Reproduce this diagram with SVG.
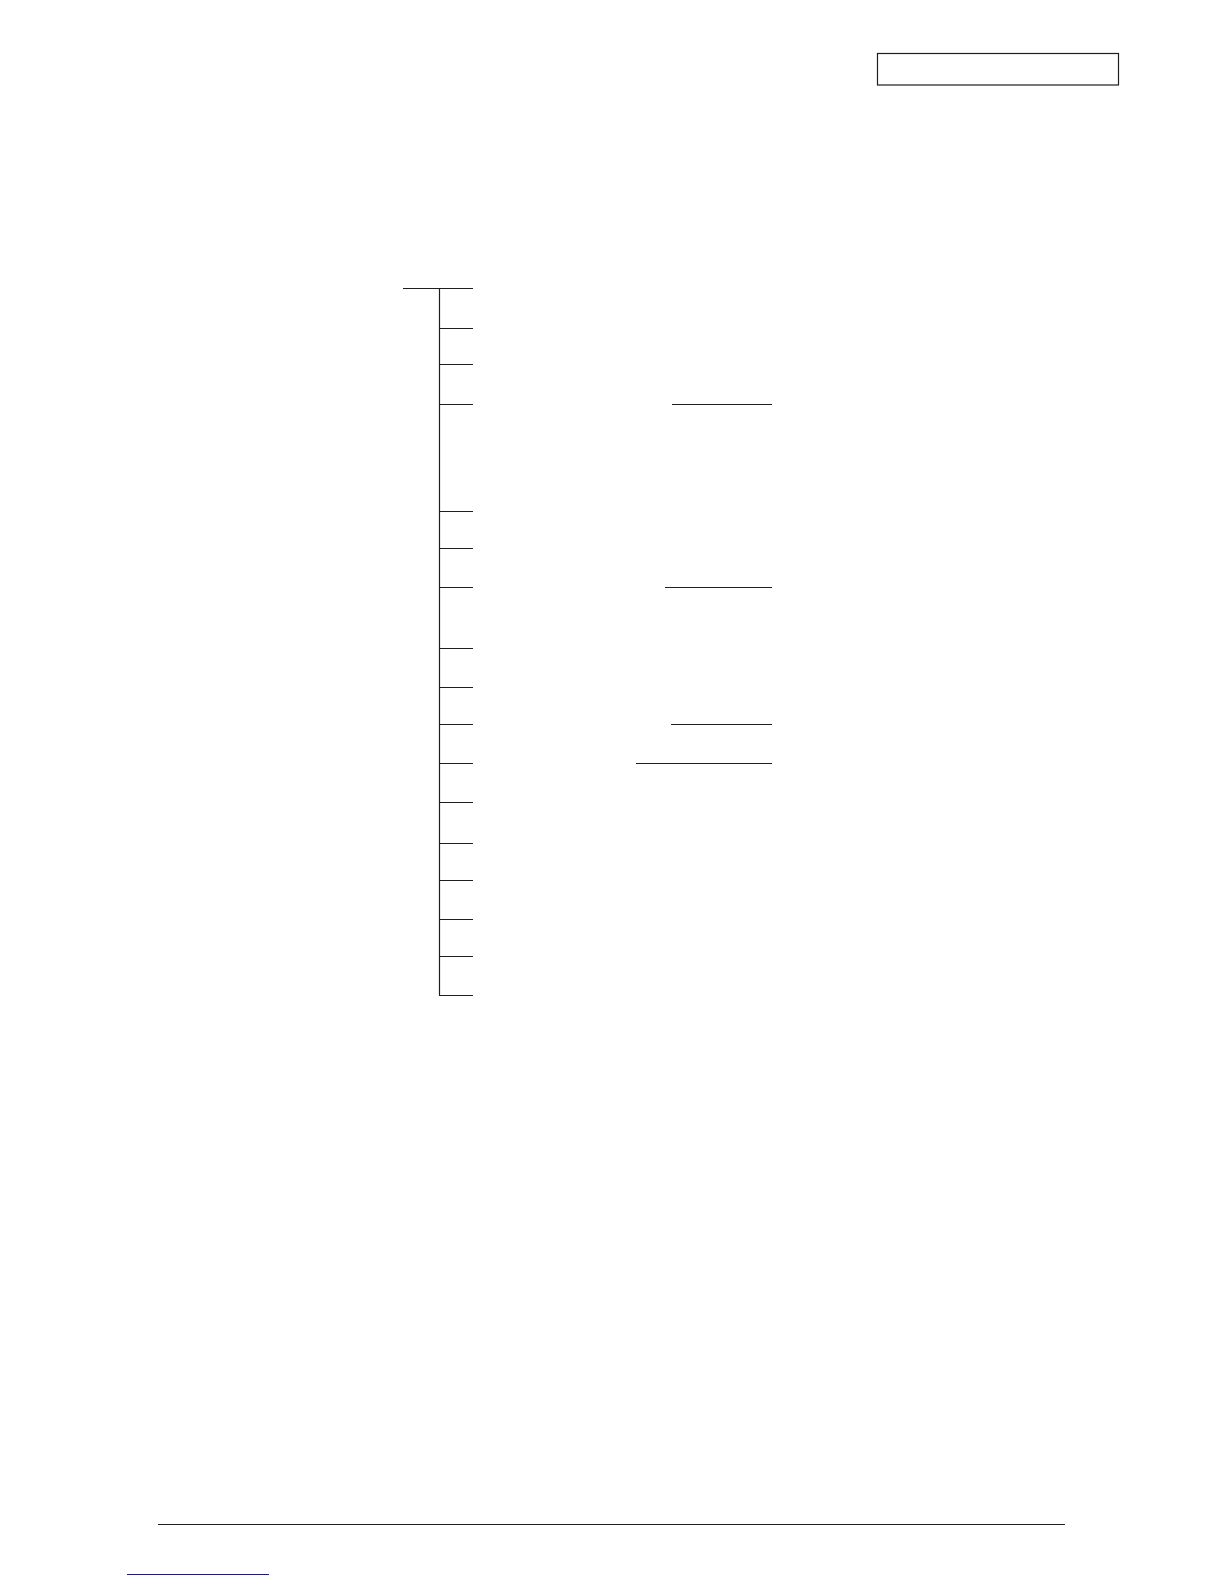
<svg xmlns="http://www.w3.org/2000/svg" width="1224" height="1584" viewBox="0 0 1224 1584">
<style>
.ln{stroke:#1e1e1e;stroke-width:1.2;fill:none}
.box{stroke:#1e1e1e;stroke-width:1.2;fill:none}
.link{stroke:#1c1c7a;stroke-width:1.2}
</style>
<rect width="1224" height="1584" fill="#ffffff"/>
<g id="header-box"><rect class="box" x="877.5" y="53.5" width="241" height="31.5"/></g>
<g id="connectors">
<line class="ln" x1="403" y1="288.5" x2="473" y2="288.5"/>
<line class="ln" x1="439.5" y1="288.5" x2="439.5" y2="995.5"/>
<line class="ln" x1="439.5" y1="328.5" x2="473" y2="328.5"/>
<line class="ln" x1="439.5" y1="364.5" x2="473" y2="364.5"/>
<line class="ln" x1="439.5" y1="404.5" x2="473" y2="404.5"/>
<line class="ln" x1="672" y1="404.5" x2="772" y2="404.5"/>
<line class="ln" x1="439.5" y1="511.5" x2="473" y2="511.5"/>
<line class="ln" x1="439.5" y1="548.5" x2="473" y2="548.5"/>
<line class="ln" x1="439.5" y1="587.5" x2="473" y2="587.5"/>
<line class="ln" x1="665" y1="587.5" x2="772" y2="587.5"/>
<line class="ln" x1="439.5" y1="648.5" x2="473" y2="648.5"/>
<line class="ln" x1="439.5" y1="687.5" x2="473" y2="687.5"/>
<line class="ln" x1="439.5" y1="724.5" x2="473" y2="724.5"/>
<line class="ln" x1="671" y1="724.5" x2="772" y2="724.5"/>
<line class="ln" x1="439.5" y1="763.5" x2="473" y2="763.5"/>
<line class="ln" x1="636" y1="763.5" x2="772" y2="763.5"/>
<line class="ln" x1="439.5" y1="802.5" x2="473" y2="802.5"/>
<line class="ln" x1="439.5" y1="843.5" x2="473" y2="843.5"/>
<line class="ln" x1="439.5" y1="880.5" x2="473" y2="880.5"/>
<line class="ln" x1="439.5" y1="919.5" x2="473" y2="919.5"/>
<line class="ln" x1="439.5" y1="956.5" x2="473" y2="956.5"/>
<line class="ln" x1="439" y1="995.5" x2="473" y2="995.5"/>
</g>
<g id="footer">
<line class="ln" x1="158" y1="1524.5" x2="1065" y2="1524.5"/>
<line class="link" x1="127" y1="1574.5" x2="269" y2="1574.5"/>
</g>
</svg>
